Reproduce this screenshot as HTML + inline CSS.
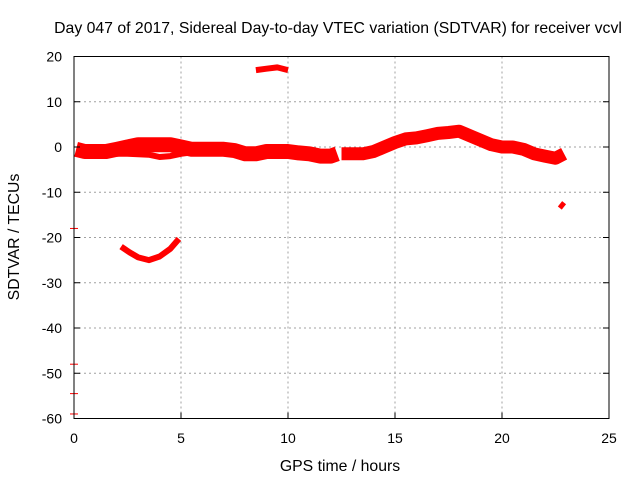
<!DOCTYPE html>
<html><head><meta charset="utf-8"><style>
body{margin:0;background:#fff}
svg text{font-family:"Liberation Sans",sans-serif;font-size:14px;fill:#000}
svg text.big{font-size:15.8px}
</style></head><body>
<svg id="c" width="640" height="480">
<text class="big" x="338" y="33" text-anchor="middle">Day 047 of 2017, Sidereal Day-to-day VTEC variation (SDTVAR) for receiver vcvl</text>
<text class="big" x="340" y="471" text-anchor="middle">GPS time / hours</text>
<text class="big" transform="translate(19,237) rotate(-90)" text-anchor="middle">SDTVAR / TECUs</text>
<g id="grid"></g><g id="marks"></g><g id="axes"></g>
</svg>
<script>
const xTicks=[0,5,10,15,20,25];
const yTicks=[20,10,0,-10,-20,-30,-40,-50,-60];
const mainHours=[0.1,0.5,1,1.5,2,2.5,3,3.5,4,4.5,5,5.5,6,6.5,7,7.5,8,8.5,9,9.5,10,10.5,11,11.5,12,12.3];
const mainVals=[-0.5,-1,-1,-1,-0.5,0,0.5,0.5,0.5,0.5,0,-0.5,-0.5,-0.5,-0.5,-0.8,-1.5,-1.5,-1,-1,-1,-1.3,-1.5,-2,-2,-1.5];
const main2Hours=[12.5,13,13.5,14,14.5,15,15.5,16,16.5,17,17.5,18,18.5,19,19.5,20,20.5,21,21.5,22,22.5,22.9];
const main2Vals=[-1.5,-1.5,-1.5,-1,0,1,1.8,2,2.5,3,3.2,3.5,2.5,1.5,0.5,0,0,-0.5,-1.5,-2,-2.5,-1.5];
const lowHours=[1.5,2,2.5,3.5,4,4.5,5,5.5];
const lowVals=[-1.5,-1.5,-1.5,-1.7,-2.2,-2,-1.5,-1.2];
const arcHours=[2.2,2.6,3,3.5,4,4.5,4.9];
const arcVals=[-22,-23.3,-24.4,-25,-24.2,-22.5,-20.3];
const upHours=[8.5,9,9.5,10];
const upVals=[17,17.3,17.6,17];
const segHours=[22.7,22.9];
const segVals=[-13.5,-12.3];
const dashVals=[-18,-48,-54.5,-59];
const X=h=>74+h*21.4, Y=v=>147-v*4.525;
const ns="http://www.w3.org/2000/svg";
const grid=document.getElementById('grid'),marks=document.getElementById('marks'),axes=document.getElementById('axes');
function mk(tag,at,par){const e=document.createElementNS(ns,tag);for(const k in at)e.setAttribute(k,at[k]);par.appendChild(e);return e;}
xTicks.forEach(t=>{
 if(t>0&&t<25){const l=mk('line',{x1:X(t),x2:X(t),y1:Y(20),y2:Y(-60),stroke:'#a0a0a0','stroke-dasharray':'2,3'},grid);
 
 }
 const tk=mk('line',{x1:X(t),x2:X(t),y1:Y(-60),y2:Y(-60)-6,stroke:'#000'},axes);
 
 
 const tx=mk('text',{x:X(t),y:443,'text-anchor':'middle'},axes);tx.textContent=t;
 
 
});
yTicks.forEach(t=>{
 if(t<20&&t>-60){const l=mk('line',{x1:X(0),x2:X(25),y1:Y(t),y2:Y(t),stroke:'#a0a0a0','stroke-dasharray':'2,3'},grid);
 
 }
 const tk=mk('line',{x1:X(0),x2:X(0)+6,y1:Y(t),y2:Y(t),stroke:'#000'},axes);
 
 
 const tk2=mk('line',{x1:X(25),x2:X(25)-6,y1:Y(t),y2:Y(t),stroke:'#000'},axes);
 
 
 const tx=mk('text',{x:62,y:Y(t)+5,'text-anchor':'end'},axes);tx.textContent=t;
 
 
});
const fr=mk('rect',{x:X(0),y:Y(20),width:X(25)-X(0),height:Y(-60)-Y(20),fill:'none',stroke:'#000'},axes);


function series(hs,vs,w,name){
 const d=hs.map((h,i)=>(i?'L':'M')+X(h).toFixed(1)+','+Y(vs[i]).toFixed(1)).join('');
 const p=mk('path',{d:d,fill:'none',stroke:'#f00','stroke-width':w,'stroke-linejoin':'round','stroke-linecap':'butt'},marks);
 
 
}
series(mainHours,mainVals,15,'sdtvar-main-band');
series(main2Hours,main2Vals,13,'sdtvar-main-band-2');
series(lowHours,lowVals,6,'sdtvar-lower-strand');
series(arcHours,arcVals,6,'sdtvar-arc');
series(upHours,upVals,6,'sdtvar-upper-arc');
series(segHours,segVals,5,'sdtvar-segment');
dashVals.forEach(v=>{
 const l=mk('line',{x1:X(0)-4,x2:X(0)+4,y1:Y(v),y2:Y(v),stroke:'#f00'},marks);
 
 
});
</script>
</body></html>
